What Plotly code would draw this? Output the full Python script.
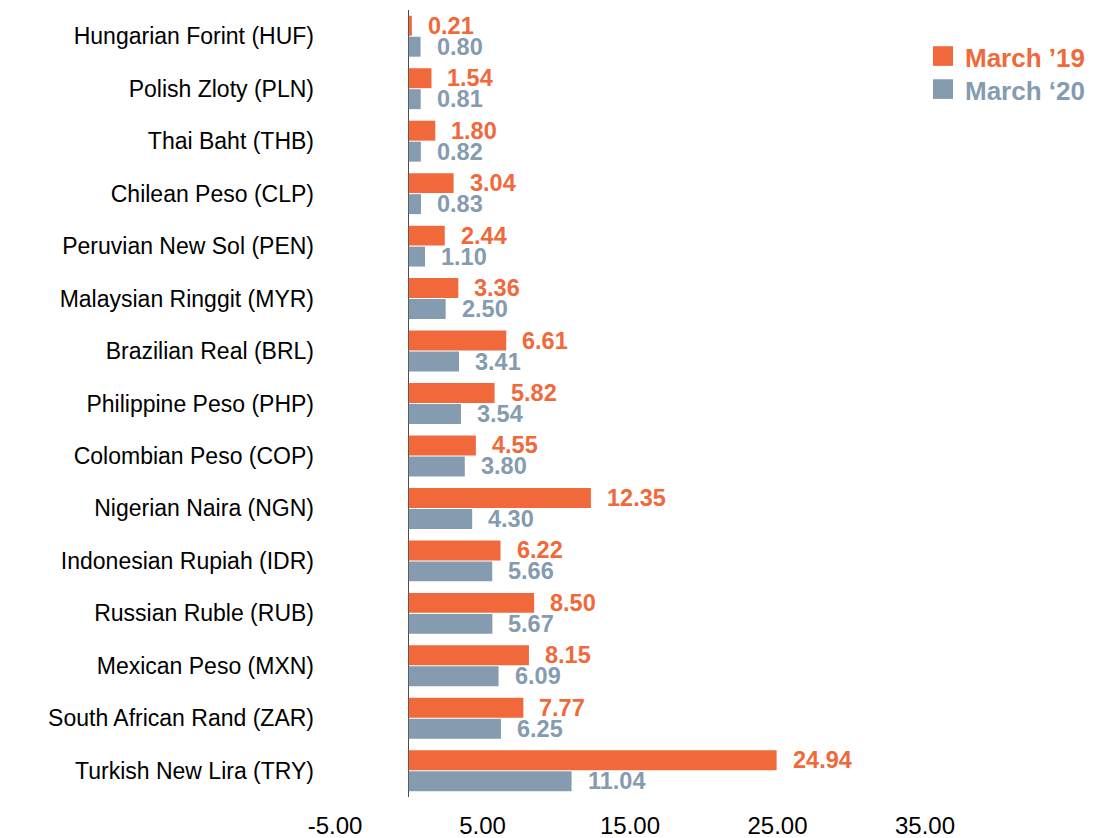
import plotly.graph_objects as go

# Currency labels, top to bottom
currencies = [
    "Hungarian Forint (HUF)", "Polish Zloty (PLN)", "Thai Baht (THB)",
    "Chilean Peso (CLP)", "Peruvian New Sol (PEN)", "Malaysian Ringgit (MYR)",
    "Brazilian Real (BRL)", "Philippine Peso (PHP)", "Colombian Peso (COP)",
    "Nigerian Naira (NGN)", "Indonesian Rupiah (IDR)", "Russian Ruble (RUB)",
    "Mexican Peso (MXN)", "South African Rand (ZAR)", "Turkish New Lira (TRY)",
]
march_19 = [0.21, 1.54, 1.80, 3.04, 2.44, 3.36, 6.61, 5.82, 4.55, 12.35,
            6.22, 8.50, 8.15, 7.77, 24.94]
march_20 = [0.80, 0.81, 0.82, 0.83, 1.10, 2.50, 3.41, 3.54, 3.80, 4.30,
            5.66, 5.67, 6.09, 6.25, 11.04]
series_names = ["March \u201919", "March \u201820"]
x_ticks = [-5, 5, 15, 25, 35]

ORANGE = "#F1683A"
GREY = "#849BB0"
FONT = "Liberation Sans, Arial, sans-serif"

fig = go.Figure()
for name, vals, col in [(series_names[0], march_19, ORANGE),
                        (series_names[1], march_20, GREY)]:
    fig.add_trace(go.Bar(
        y=currencies, x=vals, name=name, orientation="h",
        marker=dict(color=col, line=dict(width=0)),
        showlegend=False,
    ))

# Value labels to the right of each bar
annotations = []
for vals, col, shift in [(march_19, ORANGE, 10.5), (march_20, GREY, -10.5)]:
    for cat, v in zip(currencies, vals):
        annotations.append(dict(
            x=v, y=cat, xref="x", yref="y", text=f"<b>{v:.2f}</b>",
            showarrow=False, xanchor="left", yanchor="middle",
            xshift=14, yshift=shift,
            font=dict(family=FONT, size=23.5, color=col),
        ))

# Legend drawn by hand to the right of the plot area
shapes = []
for i, (name, col) in enumerate(zip(series_names, [ORANGE, GREY])):
    y_top = 0.954 - i * 0.042
    shapes.append(dict(type="rect", xref="paper", yref="paper",
                       x0=1.0136, x1=1.0475, y0=y_top - 0.025, y1=y_top,
                       fillcolor=col, line=dict(width=0)))
    annotations.append(dict(
        x=1.064, y=y_top - 0.0125, xref="paper", yref="paper",
        text=f"<b>{name}</b>", showarrow=False, xanchor="left", yanchor="middle",
        yshift=-2,
        font=dict(family=FONT, size=26, color=col),
    ))

fig.update_layout(
    width=1112, height=838,
    margin=dict(l=335, r=187, t=10, b=41),
    paper_bgcolor="white", plot_bgcolor="white",
    barmode="group", bargap=0.2, bargroupgap=0.05,
    font=dict(family=FONT, size=23, color="black"),
    annotations=annotations, shapes=shapes,
    xaxis=dict(
        range=[-5, 35], tickvals=x_ticks,
        ticktext=[f"{t:.2f}" for t in x_ticks],
        showgrid=False, showline=False, ticks="",
        zeroline=True, zerolinecolor="#4a4a4a", zerolinewidth=1.2,
        ticklabelstandoff=12, automargin=False,
        tickfont=dict(family=FONT, size=24, color="black"),
    ),
    yaxis=dict(
        autorange="reversed", showgrid=False, showline=False, ticks="",
        ticklabelstandoff=20, automargin=False,
        tickfont=dict(family=FONT, size=23, color="black"),
    ),
)

fig.write_html("out.html")
